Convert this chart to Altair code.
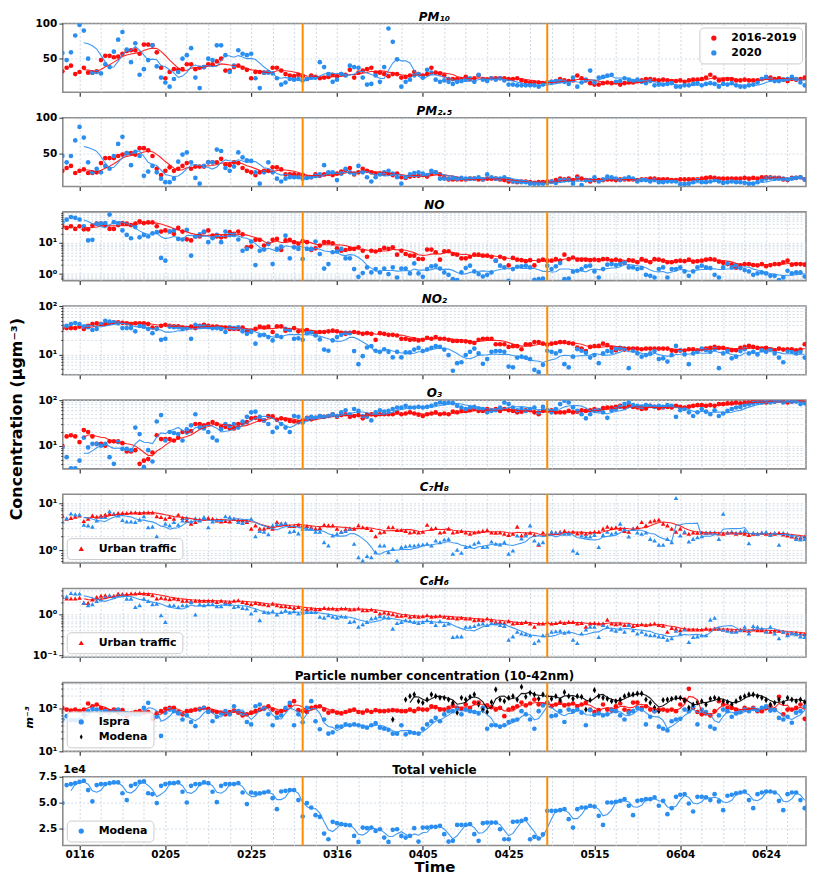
import altair as alt
import pandas as pd

# ---------------------------------------------------------------- data
# daily values, first value = 2020-01-12
start_date = "2020-01-12"
tick_dates = ["2020-01-16", "2020-02-05", "2020-02-25", "2020-03-16", "2020-04-05",
              "2020-04-25", "2020-05-15", "2020-06-04", "2020-06-24"]
lockdown_dates = ["2020-03-08", "2020-05-04"]

pm10_ref = [32,37,40,28,31,37,30,30,32,48,54,54,52,53,57,61,62,62,57,70,70,69,59,37,22,31,35,34,35,42,42,35,37,38,42,42,46,50,33,33,38,40,37,34,22,31,31,30,
            31,37,37,33,28,26,25,27,25,
            21,26,24,22,23,24,27,25,28,27,34,23,30,33,35,37,30,30,28,25,28,28,
            23,24,26,31,28,26,28,37,30,29,26,21,21,21,21,24,21,22,26,21,20,22,22,22,22,21,21,22,19,17,16,16,16,15,16,
            17,18,21,19,18,19,26,22,19,15,13,13,15,16,15,16,13,15,16,16,18,19,21,21,20,19,20,19,18,18,19,17,19,20,20,21,23,27,23,19,20,21,21,19,19,20,19,19,19,21,23,23,21,22,20,18,21,20,21,23]
pm10_2020 = [58,48,59,83,98,90,50,30,31,29,42,38,60,77,88,63,45,72,27,35,48,69,39,23,16,10,21,31,50,55,65,23,8,38,50,48,69,69,55,31,40,62,57,55,57,22,8,30,30,29,22,13,16,21,20,21,19,
             21,23,23,45,38,28,17,20,28,26,40,38,37,23,13,14,26,17,38,
             93,74,49,10,17,20,26,28,23,34,30,20,17,19,17,14,17,18,20,22,17,27,20,18,22,20,22,19,13,13,12,12,12,12,12,10,13,
             16,17,18,18,17,14,23,10,16,20,33,16,23,24,26,27,17,18,22,20,18,20,17,15,18,12,13,13,14,15,10,10,12,12,14,15,12,14,15,14,10,14,13,15,12,10,10,12,13,16,21,24,20,18,18,20,21,24,21,16,12]

pm25_ref = [25,29,32,22,25,27,22,22,23,36,43,43,43,46,48,50,50,48,57,57,54,46,28,19,25,30,25,28,32,36,28,31,31,31,37,37,37,42,34,33,37,36,29,25,23,19,23,25,25,30,30,27,20,20,20,19,19,
            16,16,20,18,20,22,19,21,24,26,29,20,23,28,25,23,21,21,21,21,19,21,16,15,17,18,18,19,17,21,23,20,16,13,13,13,13,13,14,14,13,13,14,14,14,13,12,10,10,9,10,10,9,8,9,9,10,
            10,12,14,13,14,12,17,14,12,10,12,12,12,13,13,12,13,13,13,13,12,13,13,14,14,13,13,13,12,12,13,13,13,13,13,14,15,16,15,14,14,14,14,14,14,15,14,15,14,16,16,16,15,15,13,12,15,15,16,13]
pm25_2020 = [46,37,46,68,87,72,37,23,28,23,32,28,46,63,73,50,33,52,46,18,24,32,23,14,9,9,14,38,48,51,37,15,7,32,37,37,55,53,29,25,31,51,44,40,39,23,7,23,37,23,14,10,14,16,16,16,14,
             15,16,18,20,33,23,23,12,21,28,23,21,32,23,16,10,16,20,23,25,21,16,7,16,20,22,23,21,19,25,23,14,14,14,15,14,15,14,14,14,16,13,20,16,14,14,16,13,10,10,9,9,7,7,7,7,8,
             10,8,12,12,12,7,14,5,12,12,16,10,13,17,16,14,12,14,16,14,10,12,12,10,12,9,9,10,10,10,6,6,7,9,12,9,9,10,12,10,8,9,10,9,9,8,7,7,9,12,14,15,14,14,14,13,14,15,16,13]

no_ref = [34,30,34,28,34,27,27,36,41,41,37,28,28,37,43,41,37,41,49,43,45,45,34,23,25,23,19.5,30,23,13,12,16,16,22,25,17,16,15,16,22,19.5,23,18.6,7.2,7.6,12.5,12.5,8.2,9.3,12.5,13.4,5.9,12,12.5,10.5,9.3,11.3,10.5,5.9,6.7,8.2,10.5,10.5,9.7,6.7,5.6,5.9,6.4,6.4,7.2,5.6,3.6,5.6,5.3,5.9,6.9,6.4,7.2,4.2,
          5.6,4.4,3.9,3.9,3.05,3.05,6.1,6.1,5,2.9,5.4,5.4,4.4,4.2,3.2,3.2,3.6,4.2,4.2,3.9,3.9,3.6,2.7,3.6,3.2,1.9,3.3,2.9,2.8,2.6,2.8,1.9,2.7,2.9,2.7,2.7,3.0,2.7,4.2,3.0,3.4,2.9,2.9,2.9,2.8,2.9,2.8,3.0,3.0,2.7,2.9,2.7,2.3,2.8,2.7,2.4,3.0,2.7,2.4,3.0,2.9,2.7,2.4,2.4,2.6,2.7,2.6,2.9,2.5,2.6,2.7,2.9,3.0,2.9,2.5,2.3,2.1,2.0,1.6,1.9,2.1,2.1,1.95,1.9,2.1,1.8,1.95,2.1,2.1,2.4,2.7,2.0,2.1,2.1,2.0]
no_2020 = [46,55,67,63,56,34,12,12.5,41,41,43,80,46,41,25,18,14,32,15,18,16,20,22,3.3,2.7,23,25,13.4,12.8,26,3.9,16,18.6,23,10.5,14,18,10.5,23,18,18,12.8,5.6,6.4,11,1.95,5.6,6.1,9.3,2.1,6.4,7.6,17,3.2,7.2,6.4,3.05,6.4,6.4,11,4.4,1.5,2.1,5,5.3,6.4,3.2,3.2,1.45,0.82,1.08,1.64,1.13,1.45,1.13,1.5,1.0,1.64,0.78,1.5,1.5,1.05,
           2.2,1.05,0.82,1.45,1.77,1.86,1.5,1.13,0.95,0.69,0.64,1.13,1.56,1.86,1.22,1.0,0.84,0.95,1.13,2.7,1.86,1.64,0.61,1.45,1.72,1.77,1.86,1.64,0.66,0.69,0.72,1.86,1.45,1.77,2.26,0.69,0.72,1.2,1.28,1.45,1.77,1.86,1.22,0.78,1.45,2.0,2.1,1.95,2.1,2.38,1.64,1.64,1.45,1.56,0.95,0.88,0.78,1.45,1.64,0.78,1.45,1.45,1.64,1.22,0.88,1.22,1.64,1.86,1.64,1.56,0.95,0.78,1.64,2.2,1.64,1.95,1.56,1.35,1.22,0.95,1.05,1.13,1.05,0.88,0.88,0.64,0.78,1.28,1.05,1.13,1.13,0.84]

no2_ref = [35,35,35,35,37.5,33.6,39,42.5,44,42.5,42.5,45,46,46,45,44,42.5,44,44,44,42.5,36,35,39,41,39,38,38,36,35,37.5,35,39,41,39,37.5,37.5,36,36,33.6,33.6,33.6,36,31,31,33.6,37.5,36,37.5,29,38,38,31,32,35,30,31,32,29,27.5,29,29,30,31,30,28,26.6,28,29,28,26.6,27.5,26.6,20,27.5,26.6,25.4,25.4,24.6,21,21,20,
           20.4,19.5,20.1,22.1,21.1,22.8,21.1,21.1,20.1,18.9,18.9,18.9,18.6,18,17.2,20.1,21.1,21.1,21.1,16.2,16.2,16.2,14.3,14.8,14.8,12.8,16.2,16.2,18,18,16.7,15.9,16.7,17.2,18,18,17.2,16.7,13.9,13.2,11.7,14.3,14.8,15,16.7,15.5,13.6,12.2,13.2,12.6,13.2,13.2,13.2,12.8,13.2,13.2,13.2,13.2,13.2,13.2,12,11.7,12,12,12.8,12.8,12.2,12.8,13.2,13.6,14.3,13.6,13.6,12.8,12.2,12.2,13.6,14.3,15,14.3,13.6,13.2,13.6,12.8,12.2,13.2,12.6,12.8,12.8,12.2,12.6,16.2]
no2_2020 = [39,39,42.5,44.6,42.5,37.5,36.4,32,33.6,42.5,49.6,47.5,45.9,43.8,35,35,35,30,39,37.5,33.6,27.5,33.6,20,21,37.5,36.4,36.4,33.6,35,21,41,38,37.5,36.4,34.7,35,33.6,29,36.4,35,36.4,30,26.6,29,16.7,24.6,25.4,22.8,19.5,24.6,22.8,33.6,32,21,21.5,20,27.5,29,24.6,20.4,12.6,11.9,19.5,22.8,25.4,27.9,27.5,11.7,6.3,9.2,13.9,14.8,11.9,11.3,12.8,11.3,8.7,11.3,8.7,11,11,
            12.6,13.6,11.7,12.6,13.6,14.8,14.3,12.6,9.7,4.6,6.6,6.9,9.7,11.3,13.2,10.5,6.4,8.0,11.3,11.7,11.7,11.3,5.6,5.4,8.6,9.0,8.6,8.0,4.8,4.3,6.1,11.9,11.3,10.5,11.7,6.3,5.4,9.0,12.8,11.9,10.8,8.6,9.7,6.6,10.5,11.7,11.3,13.2,13.6,13.2,5.2,11.9,10.5,9.0,9.7,10.5,11.7,8.0,8.3,7.1,9.7,15,12.2,10,6.3,10.5,11.3,13.2,12.2,11.3,12.8,5.2,10.5,11.7,8.3,9.0,11.7,12.8,10.5,11.3,10.0,12.2,11.3,12.8,10.5,8.6,6.9,11.7,11.3,10.5,11.3,8.6]

o3_ref = [10,16,17,16,12,22,20,16,11,11,10,12.5,12.5,12.5,11.4,7.5,7.5,8,4,4.7,5.1,7.1,17,14,14,14,13,15,20,20,21,30,30,28,30,33,30,26,26,24,24,30,31,33,40,41,37,36,45,44,37,40,38,35,34,33,36,
          41,38,41,45,43,45,49,43,47,49,43,45,47,40,48,49,47,49,49,49,49,54,49,51,54,
          51,48,45,49,51,54,49,51,49,56,54,58,58,60,64,58,58,64,60,64,58,64,60,58,54,56,60,60,54,49,58,58,60,54,54,54,58,54,56,60,58,60,64,60,67,69,69,71,75,69,75,71,69,64,66,75,71,67,69,71,69,75,71,69,72,75,78,78,75,78,75,82,82,85,85,89,85,89,89,93,93,93,89,93,93,97,93,89,93,97,97,89]
o3_2020 = [9.2,5.6,3.2,3.2,4.7,15,9.2,11,11,10,11,5.6,4,12,8.5,8.5,8,25,18,3.4,8,4.5,34,47,13,20,19,18,13,23,28,49,25,24,20,15,13,23,30,27,30,25,34,43,54,56,43,36,30,20,25,30,25,20,45,43,32,40,43,41,45,43,45,49,45,54,60,49,64,58,45,43,36,54,60,56,58,64,69,69,75,69,
           69,71,69,71,75,82,89,86,89,86,75,69,64,69,71,66,64,54,58,60,69,89,82,69,60,64,58,64,69,54,71,60,54,64,82,97,89,69,58,49,40,49,58,60,54,41,60,64,71,82,89,78,75,71,78,75,71,75,71,78,75,43,60,64,54,45,54,64,56,49,60,45,51,58,64,69,71,78,82,86,89,89,97,89,93,97,89,97,93,93,82,86]

tol_ref = [5.5,4.7,4.9,5.2,5.5,4.2,4.7,5.5,5.2,5.5,5.8,6,6,6.2,6.2,6.2,6.4,6.4,6.2,6.4,6.4,6.4,5.3,5.1,4.7,5.1,4.7,5.7,4.9,4.3,3.7,4,4.5,4.7,4.9,4.7,4.3,4.1,4.2,4.1,4.7,4.4,4.3,4,2.9,3.4,2.9,2.9,3.1,2.9,4,3.7,3.7,3.3,3.3,3.5,3.4,3.3,3.1,2.9,3,3.5,3.4,3.4,2.9,2.5,2.8,2.9,2.9,3.4,3.1,3,2.7,2,2.4,2.5,3.1,3.1,2.7,2.7,2.6,2.4,
           2.5,2.4,2.5,3.5,2.9,3.0,2.4,2.5,2.9,2.4,2.5,2.6,2.4,2.25,2.4,2.5,2.6,2.7,2.4,2.36,2.4,2.25,2.14,2.25,3.2,2.07,2.25,2.36,2.14,1.32,2.4,2.25,2.36,2.4,2.5,2.6,2.4,2.5,2.3,2.4,2.25,2.4,2.5,2.5,2.9,3.2,3.0,3.1,2.9,2.6,2.5,2.9,3.1,4.0,3.4,4.1,4.3,4.5,3.7,3.4,2.9,2.5,2.9,2.4,2.25,2.4,2.36,2.4,2.36,2.4,2.4,2.3,2.25,2.36,2.4,2.25,2.36,2.25,2.14,2.25,2.25,2.36,2.25,2.25,2.25,2.36,2.18,2.07,1.98,1.91,1.85,1.98]
tol_2020 = [4.1,4.8,6.1,5.8,5.8,3.5,3.4,3.2,4.3,5.1,5.1,6.8,6,5.5,4.4,4.1,4.1,4,4.5,5.3,3.1,3.2,2,1.55,3.7,3.4,4,3.5,4.3,4.9,4.1,4.8,4.3,5.1,3.1,4.1,4.5,4.4,5.3,5.1,4.7,4,3.8,4.3,4.7,2,2.6,2.5,2.2,3.4,3.6,3.7,3.8,2.5,2.6,2.3,2.9,2.9,2.9,2.5,2.5,1.5,1.27,2.07,2.25,2.5,2.6,2.9,1.38,0.72,0.61,0.76,0.72,0.92,1.27,1.27,0.92,1.08,0.61,1.18,1.23,1.27,
            1.27,1.32,1.34,1.38,1.27,1.63,1.5,1.7,1.76,0.85,1.03,0.89,1.18,1.23,1.38,1.5,1.18,1.2,1.55,1.38,1.34,1.5,0.85,1.0,2.07,1.8,2.07,3.4,1.63,1.38,1.5,2.25,2.5,2.36,2.4,2.25,2.25,1.0,0.88,2.07,1.98,1.98,2.14,1.18,2.14,2.5,2.25,2.4,3.7,2.9,1.98,2.9,2.4,2.25,2.4,1.76,1.63,1.32,1.32,1.76,1.5,13,2.07,2.5,1.55,1.76,1.91,2.0,2.4,2.4,2.4,1.76,6.0,2.4,2.5,2.36,2.5,2.6,1.42,2.36,2.25,2.4,2.5,2.14,2.36,1.32,2.36,2.25,2.07,1.76,1.7,1.76]

benz_ref = [2.7,2.5,2.5,2.5,2.6,1.94,1.94,2.34,2.7,2.9,3,2.9,2.9,3.3,3.2,3.2,3.3,3.3,3.4,3.3,3.2,3,2.5,2.6,2.5,2.4,2.5,2.4,2.2,2.2,2.2,2.2,2.2,2.2,2.2,2.2,2.05,2.2,2.05,2.05,2.2,2.25,2.05,1.94,1.8,1.94,1.86,1.8,1.7,1.86,1.7,1.6,1.6,1.54,1.46,1.54,1.41,1.35,1.41,1.35,1.35,1.46,1.41,1.41,1.35,1.41,1.41,1.33,1.35,1.41,1.28,1.28,1.33,1.23,1.06,1.12,1.06,1.02,0.93,0.93,0.96,0.88,
            0.91,0.88,0.91,0.96,0.88,0.91,0.93,0.88,0.84,0.84,0.80,0.83,0.80,0.80,0.73,0.75,0.73,0.80,0.73,0.66,0.66,0.62,0.69,0.60,0.62,0.62,0.66,0.60,0.50,0.60,0.60,0.66,0.60,0.62,0.66,0.62,0.66,0.66,0.60,0.62,0.50,0.60,0.62,0.60,0.60,0.75,0.60,0.58,0.60,0.55,0.58,0.52,0.55,0.58,0.55,0.58,0.60,0.55,0.53,0.375,0.47,0.45,0.41,0.45,0.43,0.43,0.43,0.43,0.45,0.43,0.45,0.45,0.43,0.43,0.41,0.40,0.43,0.41,0.40,0.43,0.41,0.41,0.40,0.375,0.40,0.40,0.375,0.34,0.355,0.355,0.34,0.33]
benz_2020 = [2.7,2.8,3.4,3.3,3.3,1.97,1.7,1.8,2.17,2.34,2.7,3,2.8,3,3,2.47,2.47,1.54,1.7,2.47,2.17,1.8,1.86,0.96,0.66,1.7,1.7,1.54,1.7,1.7,2.05,1.0,1.8,1.7,1.8,1.8,1.6,1.6,1.86,1.8,1.54,1.6,1.46,1.41,1.06,1.28,0.73,1.16,1.12,1.2,1.0,1.16,1.28,1.12,1.2,1.06,1.12,1.16,1.16,1.16,0.88,0.84,0.96,0.88,0.84,0.91,0.88,0.66,0.69,0.5,0.58,0.66,0.8,0.84,0.91,0.88,0.84,0.45,0.62,0.66,0.73,0.7,
             0.66,0.62,0.66,0.73,0.66,0.55,0.69,0.55,0.60,0.28,0.29,0.29,0.5,0.5,0.52,0.58,0.60,0.55,0.62,0.60,0.55,0.52,0.24,0.29,0.375,0.34,0.33,0.31,0.2,0.23,0.31,0.34,0.375,0.39,0.40,0.355,0.375,0.24,0.2,0.34,0.43,0.5,0.5,0.28,0.55,0.5,0.43,0.40,0.45,0.375,0.55,0.41,0.34,0.375,0.33,0.31,0.31,0.29,0.28,0.24,0.26,0.40,0.34,0.43,0.21,0.28,0.29,0.31,0.31,0.75,0.83,0.45,0.43,0.40,0.375,0.375,0.41,0.5,0.34,0.52,0.5,0.45,0.375,0.5,0.34,0.26,0.375,0.31,0.34,0.33,0.29,0.28]

pnc_ref = [105,96,91,96,88,96,133,115,126,105,96,88,96,81,93,67,78,84,88,81,84,58,78,88,100,105,105,84,74,88,91,96,100,105,100,88,84,81,74,84,91,81,70,74,81,88,96,105,115,96,81,88,96,120,151,93,88,84,105,111,115,96,81,88,81,78,84,91,96,84,81,91,84,93,88,88,91,93,91,88,88,96,
           88,100,96,96,115,109,96,96,105,120,105,100,126,105,140,140,105,120,109,96,105,67,96,105,115,140,120,133,165,126,126,140,115,126,140,120,126,133,115,126,140,96,84,93,126,96,91,115,133,96,88,140,140,105,115,96,88,96,96,91,96,88,126,165,295,105,84,74,78,70,88,151,126,105,105,96,88,105,96,105,88,88,105,115,96,191,74,96,96,105,126,58]
pnc_ispra = [56,67,54,54,56,74,88,100,96,78,88,81,88,96,74,78,74,74,74,105,138,65,65,23,81,96,88,78,56,70,49,39,96,105,84,51,65,78,88,74,115,88,78,49,43,115,126,100,74,41,62,70,105,138,41,74,48,105,151,51,33,56,26,28,38,38,43,41,43,41,38,36,41,46,36,34,32,26,26,41,25,28,
             27,26,34,43,51,61,51,74,88,88,105,74,96,88,84,78,105,34,41,41,38,41,49,53,56,88,74,56,34,88,120,133,67,70,88,49,96,88,96,81,41,93,72,78,70,74,96,88,70,56,81,88,105,96,43,65,88,38,34,31,51,56,58,96,88,115,43,96,84,38,34,70,96,88,65,78,84,96,88,100,93,105,115,91,93,61,56,65,47,81,88,111]
modena_start = "2020-03-29"
pnc_modena = [56, None, None,
              165,198,217,151,138,165,217,198,181,181,165,138,81,181,165,191,217,126,93,84,143,284,165,151,181,198,165,327,191,237,217,172,217,198,172,198,160,245,198,172,198,191,96,160,274,198,181,172,151,151,165,198,217,217,229,229,165,138,106,88,160,165,172,181,181,151,106,126,143,151,126,172,181,172,151,143,126,151,181,198,217,217,198,181,160,126,138,165,138,181,165,151,165,143]

vehicles_1e4 = [4.94,6.69,6.79,6.88,7.01,7.11,6.2,5.1,6.69,6.79,6.79,6.88,6.95,6.95,5.9,5.23,6.62,6.79,7.01,7.05,5.9,5.81,4.94,6.62,6.79,6.88,6.88,6.95,6.04,5.0,6.62,6.79,6.79,6.95,6.88,6.04,5.03,6.62,6.79,6.79,6.79,6.88,5.97,4.84,5.97,5.88,5.88,5.97,6.07,5.42,4.35,6.07,6.13,6.2,6.2,5.23,3.64,
                4.94,4.51,3.77,3.6,1.98,1.43,3.12,2.99,2.89,2.82,2.79,1.75,1.17,2.56,2.5,2.56,2.24,2.4,1.59,1.17,2.34,2.4,1.75,1.59,1.75,
                2.5,1.2,2.56,2.56,2.63,2.63,2.73,1.92,1.2,1.27,2.82,2.82,2.82,2.89,1.92,1.27,2.99,3.05,3.05,3.05,2.4,1.43,1.43,3.12,3.15,3.21,3.38,1.43,1.66,1.5,1.9,
                4.19,4.19,4.19,4.25,4.35,3.38,2.56,4.35,4.51,4.51,4.68,4.6,3.7,2.82,5.0,5.0,5.06,5.16,5.32,4.68,3.77,5.16,5.23,5.32,5.32,5.49,4.68,5.16,3.86,4.45,5.55,5.75,5.81,4.9,4.12,5.55,5.55,5.49,5.23,5.81,5.1,4.25,5.65,5.75,5.88,5.97,6.07,5.23,4.45,5.81,5.97,6.07,6.07,5.97,5.16,4.25,5.81,5.97,5.97,5.23,4.45]

# ---------------------------------------------------------------- helpers
DAY = 86400000


def ms(date_str):
    return int(pd.Timestamp(date_str, tz="UTC").value // 1_000_000)


T0 = ms(start_date)
TICK0 = ms(tick_dates[0])
x_domain = [T0 + int(0.1 * DAY), T0 + int(173.3 * DAY)]
grid_vals = [TICK0 + k * 5 * DAY for k in range(0, 34) if TICK0 + k * 5 * DAY <= x_domain[1]]
major_test = f"(datum.value - {TICK0}) % {20 * DAY} == 0"

RED = "#ff0d0d"
BLUE = "#2a8ef0"
BLACK = "#000000"
ORANGE = "#ff8c00"
GRID = "#c3cfdc"
W, H = 746, 69
SPACING = 25.5
PT = 22


def frame(vals, start=start_date, label=None):
    t_start = ms(start)
    rows = [{"t": t_start + i * DAY, "v": v} for i, v in enumerate(vals) if v is not None]
    df = pd.DataFrame(rows)
    if label is not None:
        df["s"] = label
    return df


xscale = alt.Scale(type="utc", domain=x_domain, nice=False)


def x_enc(bottom=False):
    kw = dict(values=grid_vals, grid=True, domain=False, tickSize=4, tickWidth=1.2, tickColor="#333333",
              tickOpacity={"condition": {"test": major_test, "value": 1}, "value": 0},
              gridColor=GRID, gridDash=[2, 2], gridWidth=0.8, labelOverlap=False)
    if bottom:
        ax = alt.Axis(labelExpr=f"{major_test} ? utcFormat(datum.value, '%m%d') : ''", labelFontSize=10.5,
                      labelPadding=0, title="Time", titleFontSize=15, titleFontWeight="bold",
                      titlePadding=0, **kw)
        return alt.X("t:T", scale=xscale, axis=ax)
    return alt.X("t:T", scale=xscale, axis=alt.Axis(labels=False, **kw), title=None)


major_log = "indexof([0.1, 1, 10, 100, 1000], datum.value) >= 0"
log_label = ("datum.value == 0.1 ? '10⁻¹' : datum.value == 1 ? '10⁰' : "
             "datum.value == 10 ? '10¹' : datum.value == 100 ? '10²' : ''")


def log_axis(lo, hi, **extra):
    vals = [m * 10.0 ** e for e in range(-2, 4) for m in range(1, 10) if lo <= m * 10.0 ** e <= hi]
    return alt.Axis(values=vals, labelExpr=log_label, labelOverlap=False, grid=True, domain=False,
                    tickSize={"condition": {"test": major_log, "value": 4}, "value": 2},
                    tickColor="#333333", tickWidth=1, gridColor=GRID, gridDash=[2, 2], gridWidth=0.7,
                    labelPadding=2, **extra)


def lin_axis(vals, fmt=None, **extra):
    kw = dict(values=vals, grid=True, domain=False, tickSize=4, tickColor="#333333", tickWidth=1,
              gridColor=GRID, gridDash=[2, 2], gridWidth=0.7, labelPadding=2)
    if fmt:
        kw["format"] = fmt
    kw.update(extra)
    return alt.Axis(**kw)


def legend(orient, **extra):
    return alt.Legend(orient=orient, offset=4, fillColor="rgba(255,255,255,0.85)", strokeColor="#cccccc",
                      padding=5, cornerRadius=4, labelFont="DejaVu Sans", labelFontWeight="bold",
                      labelFontSize=11, labelColor="black", symbolSize=28, rowPadding=3, labelOffset=12,
                      symbolOffset=4, **extra)


def points(df, xe, ye, color, shape="circle", size=PT):
    return alt.Chart(df).mark_point(filled=True, shape=shape, size=size, color=color, opacity=1,
                                    clip=True).encode(x=xe, y=ye)


def points_leg(df, xe, ye, cscale, leg, shape="circle", size=PT, sscale=None):
    enc = dict(x=xe, y=ye, color=alt.Color("s:N", scale=cscale, legend=leg, title=None))
    if sscale is not None:
        enc["shape"] = alt.Shape("s:N", scale=sscale, legend=leg, title=None)
    return alt.Chart(df).mark_point(filled=True, shape=shape, size=size, opacity=1, clip=True).encode(**enc)


def smooth(df, xe, yscale, yaxis, color, w, ytitle=None):
    ye = alt.Y("m:Q", scale=yscale, axis=yaxis, title=ytitle)
    return (alt.Chart(df)
            .transform_window(m="mean(v)", n="count()", frame=[-(w - 1), 0], sort=[alt.SortField("t")])
            .transform_filter(f"datum.n >= {w}")
            .mark_line(color=color, strokeWidth=1.1, clip=True, opacity=0.9)
            .encode(x=xe, y=ye))


rules_df = pd.DataFrame({"t": [ms(d) for d in lockdown_dates]})


def rules(xe):
    return alt.Chart(rules_df).mark_rule(color=ORANGE, strokeWidth=2).encode(x=xe)


def title_mark(text, italic):
    return alt.Chart(pd.DataFrame({"k": [0]})).mark_text(
        text=text, fontSize=12, fontWeight="bold", fontStyle="italic" if italic else "normal",
        font="DejaVu Sans", align="center", baseline="alphabetic", color="black"
    ).encode(x=alt.value(W / 2), y=alt.value(-3))


def pollutant_panel(title, italic, ref, cur, yscale, yaxis, shape="circle", leg_kind=None, extra=None, w=6):
    xe = x_enc()
    ye = alt.Y("v:Q", scale=yscale, axis=yaxis, title=None)
    layers = []
    if leg_kind == "years":
        cs = alt.Scale(domain=["2016-2019", "2020"], range=[RED, BLUE])
        leg = legend("top-right")
        layers.append(points_leg(frame(ref, label="2016-2019"), xe, ye, cs, leg, shape))
        layers.append(points_leg(frame(cur, label="2020"), xe, ye, cs, leg, shape))
    elif leg_kind == "urban":
        cs = alt.Scale(domain=["Urban traffic"], range=[RED])
        leg = legend("bottom-left", symbolType="triangle-up")
        layers.append(points_leg(frame(ref, label="Urban traffic"), xe, ye, cs, leg, shape))
        layers.append(points(frame(cur), xe, ye, BLUE, shape))
    else:
        layers.append(points(frame(ref), xe, ye, RED, shape))
        layers.append(points(frame(cur), xe, ye, BLUE, shape))
    layers.append(smooth(frame(ref), xe, yscale, yaxis, RED, w))
    layers.append(smooth(frame(cur), xe, yscale, yaxis, BLUE, w))
    layers.append(rules(xe))
    layers.append(title_mark(title, italic))
    if extra is not None:
        layers.append(extra)
    return alt.layer(*layers).properties(width=W, height=H)


def logs(lo, hi):
    return alt.Scale(type="log", domain=[lo, hi], nice=False)


def lins(lo, hi):
    return alt.Scale(type="linear", domain=[lo, hi], nice=False, zero=False)


# big y title, attached to the O3 panel (flush layout: does not move the panels)
ytitle = alt.Chart(pd.DataFrame({"k": [0]})).mark_text(
    text="Concentration (μgm⁻³)", angle=270, fontSize=16, fontWeight="bold", font="DejaVu Sans",
    align="center", baseline="middle", color="black").encode(x=alt.value(-46), y=alt.value(19))

p_pm10 = pollutant_panel("PM₁₀", True, pm10_ref, pm10_2020, lins(2, 100), lin_axis([50, 100]), leg_kind="years")
p_pm25 = pollutant_panel("PM₂.₅", True, pm25_ref, pm25_2020, lins(3, 100), lin_axis([50, 100]))
p_no = pollutant_panel("NO", True, no_ref, no_2020, logs(0.62, 98), log_axis(0.62, 98))
p_no2 = pollutant_panel("NO₂", True, no2_ref, no2_2020, logs(3.8, 100), log_axis(3.8, 100))
p_o3 = pollutant_panel("O₃", True, o3_ref, o3_2020, logs(3.1, 100), log_axis(3.1, 100), extra=ytitle)
p_tol = pollutant_panel("C₇H₈", True, tol_ref, tol_2020, logs(0.54, 15.5), log_axis(0.54, 15.5),
                        shape="triangle-up", leg_kind="urban")
p_benz = pollutant_panel("C₆H₆", True, benz_ref, benz_2020, logs(0.089, 4.4), log_axis(0.089, 4.4),
                         shape="triangle-up", leg_kind="urban")

# particle number concentration
THIN_DIAMOND = "M0,-1L0.55,0L0,1L-0.55,0Z"
xe = x_enc()
pnc_scale = logs(10, 413)
pnc_axis = log_axis(10, 413, title="m⁻³", titleFontSize=11, titleFontWeight="bold",
                    titleFontStyle="italic", titlePadding=3)
pnc_y = alt.Y("v:Q", scale=pnc_scale, axis=pnc_axis, title="m⁻³")
cs_pnc = alt.Scale(domain=["Ispra", "Modena"], range=[BLUE, BLACK])
ss_pnc = alt.Scale(domain=["Ispra", "Modena"], range=["circle", THIN_DIAMOND])
leg_pnc = legend("bottom-left")
p_pnc = alt.layer(
    points(frame(pnc_ref), xe, pnc_y, RED),
    points_leg(frame(pnc_ispra, label="Ispra"), xe, pnc_y, cs_pnc, leg_pnc, sscale=ss_pnc),
    points_leg(frame(pnc_modena, start=modena_start, label="Modena"), xe, pnc_y, cs_pnc, leg_pnc,
               size=40, sscale=ss_pnc),
    smooth(frame(pnc_ref), xe, pnc_scale, pnc_axis, RED, 3, ytitle="m⁻³"),
    smooth(frame(pnc_ispra), xe, pnc_scale, pnc_axis, BLUE, 3, ytitle="m⁻³"),
    smooth(frame(pnc_modena, start=modena_start), xe, pnc_scale, pnc_axis, BLACK, 3, ytitle="m⁻³"),
    rules(xe),
    title_mark("Particle number concentration (10-42nm)", False),
).properties(width=W, height=H)

# total vehicles
xb = x_enc(bottom=True)
veh_scale = lins(0.82, 7.5)
veh_axis = lin_axis([2.5, 5.0, 7.5], fmt=".1f", title="1e4", titleAngle=0, titleX=0, titleY=-2,
                    titleAlign="left", titleBaseline="bottom", titleFontSize=11, titleFontWeight="bold")
veh_y = alt.Y("v:Q", scale=veh_scale, axis=veh_axis, title="1e4")
cs_veh = alt.Scale(domain=["Modena"], range=[BLUE])
p_veh = alt.layer(
    points_leg(frame(vehicles_1e4, label="Modena"), xb, veh_y, cs_veh, legend("bottom-left")),
    smooth(frame(vehicles_1e4), xb, veh_scale, veh_axis, BLUE, 3, ytitle="1e4"),
    rules(xb),
    title_mark("Total vehicle", False),
).properties(width=W, height=H)

chart = (
    alt.vconcat(p_pm10, p_pm25, p_no, p_no2, p_o3, p_tol, p_benz, p_pnc, p_veh, spacing=SPACING, bounds="flush")
    .resolve_scale(y="independent", color="independent", shape="independent")
    .properties(padding={"left": 0, "top": 0, "right": 0, "bottom": 0})
    .configure_view(stroke="#8c8c8c", strokeWidth=1.6)
    .configure_axis(labelFont="DejaVu Sans", labelFontWeight="bold", labelFontSize=10.5, labelColor="black",
                    titleFont="DejaVu Sans", titleColor="black")
)

chart.save("out.html", embed_options={"renderer": "svg", "actions": False})
